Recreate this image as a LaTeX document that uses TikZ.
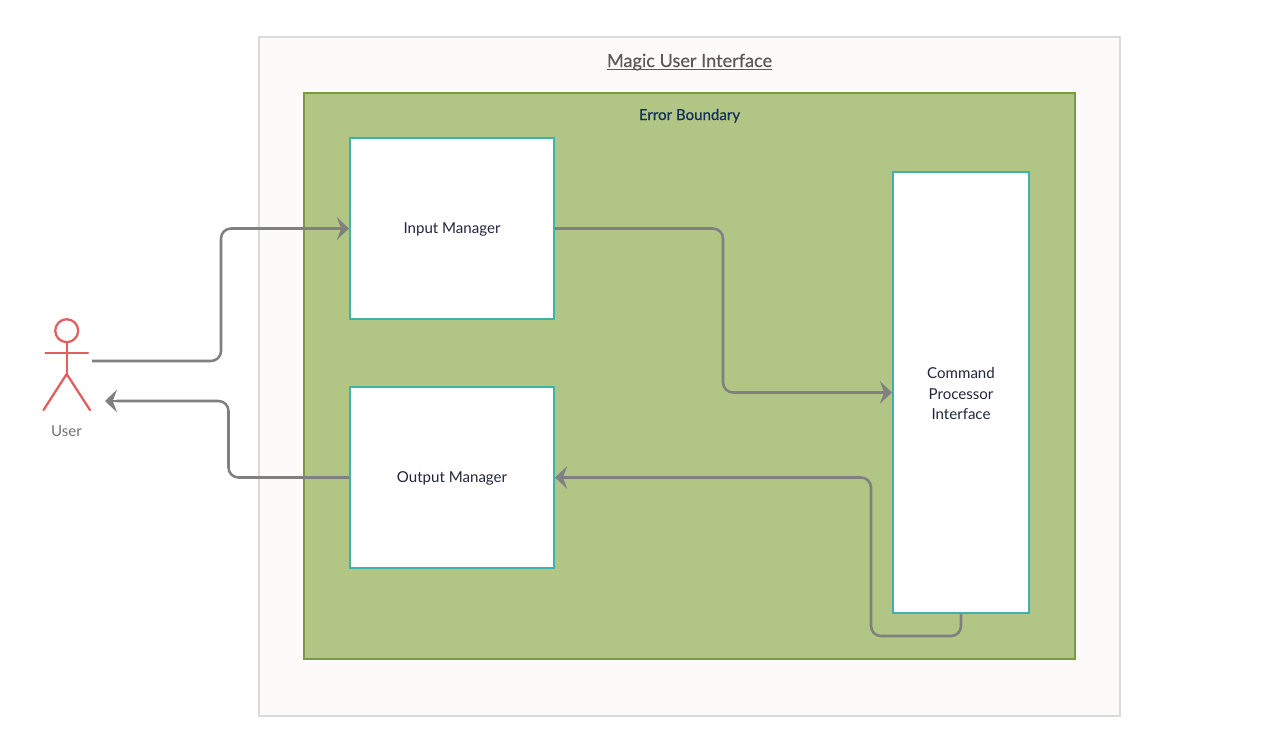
\documentclass[tikz,border=0pt]{standalone}
\usepackage{fontspec}
\setmainfont{Lato}
\usetikzlibrary{arrows.meta,calc}
\definecolor{framefill}{HTML}{FDFBFA}
\definecolor{frameline}{HTML}{DADADA}
\definecolor{errfill}{HTML}{B1C585}
\definecolor{errline}{HTML}{7A9A3F}
\definecolor{boxline}{HTML}{3DB3AC}
\definecolor{wire}{HTML}{808080}
\definecolor{actor}{HTML}{E25F5F}
\definecolor{inktext}{HTML}{22263F}
\definecolor{navytext}{HTML}{12305A}
\definecolor{greytext}{HTML}{5A5A5A}
\tikzset{
  px/.style={x=0.75pt,y=-0.75pt},
  zone/.style={draw=frameline,fill=framefill,line width=1.6pt,inner sep=0pt},
  errzone/.style={draw=errline,fill=errfill,line width=1.6pt,inner sep=0pt},
  compbox/.style={draw=boxline,fill=white,line width=1.7pt,inner sep=0pt,align=center,font=\fontsize{11.3pt}{15.4pt}\selectfont,text=inktext},
  oneline/.style={text height=8.2pt,text depth=0pt},
  wireline/.style={draw=wire,line width=1.9pt,rounded corners=7.5pt},
  wiretip/.style={draw=wire,line width=1.9pt,-{Stealth[length=9pt,width=17pt,inset=3.2pt]}},
  stick/.style={draw=actor,line width=1.7pt,line cap=round},
}
\begin{document}
\begin{tikzpicture}[px]
\useasboundingbox (0,0) rectangle (1280,753);
\fill[white] (0,0) rectangle (1280,753);
\node[zone,minimum width=645.75pt,minimum height=509.25pt] (outer) at (689.5,376.5) {};
\node[errzone,minimum width=578.25pt,minimum height=424.5pt] (err) at (689.5,376) {};
\node[text=greytext,font=\fontsize{13.6pt}{16pt}\selectfont,inner sep=0pt,anchor=base] (title) at (689.5,67) {\underline{\smash{\addfontfeature{FakeBold=0.5}Magic User Interface}}};
\node[text=navytext,font=\fontsize{11.3pt}{13pt}\selectfont,inner sep=0pt,anchor=base] (errtitle) at (689.5,120) {\addfontfeature{FakeBold=0.4}Error Boundary};
\node[compbox,oneline,minimum width=153pt,minimum height=135.75pt] (input) at (452,228.5) {Input Manager};
\node[compbox,oneline,minimum width=153pt,minimum height=135.75pt] (output) at (452,477.5) {Output Manager};
\node[compbox,minimum width=102pt,minimum height=330.75pt] (cmd) at (961,392.5) {\rule{0pt}{10.5pt}Command\\Processor\\Interface};
% actor
\node[stick,circle,inner sep=0pt,minimum size=17.2pt,fill=white] (head) at (66.7,330.7) {};
\coordinate (hip) at (66.7,374);
\coordinate (armL) at (45.5,353);
\coordinate (armR) at (88,353);
\coordinate (footL) at (43.5,410);
\coordinate (footR) at (90,410);
\draw[stick] (head.south) -- (hip);
\draw[stick] (armL) -- (armR);
\draw[stick] (footL) -- (hip) -- (footR);
\node[text=greytext!85!white,font=\fontsize{11.3pt}{13pt}\selectfont,inner sep=0pt,anchor=base] (userlabel) at (66.5,436.5) {User};
\coordinate (userout) at (92,361);
\coordinate (userin) at (105,401);
\coordinate (run1) at (338,228.5);
\coordinate (run2) at (117,401);
\coordinate (run3) at (881,392.5);
\coordinate (run4) at (566,477.5);
% connectors
\draw[wireline] (userout) -- (221,361) -- (221,228.5) -- (run1);
\draw[wiretip] (run1) -- (input.west);
\draw[wireline] (output.west) -- (228.5,477.5) -- (228.5,401) -- (run2);
\draw[wiretip] (run2) -- (userin);
\draw[wireline] (input.east) -- (723,228.5) -- (723,392.5) -- (run3);
\draw[wiretip] (run3) -- (cmd.west);
\draw[wireline] (cmd.south) -- (961,636) -- (871,636) -- (871,477.5) -- (run4);
\draw[wiretip] (run4) -- (output.east);
\end{tikzpicture}
\end{document}
